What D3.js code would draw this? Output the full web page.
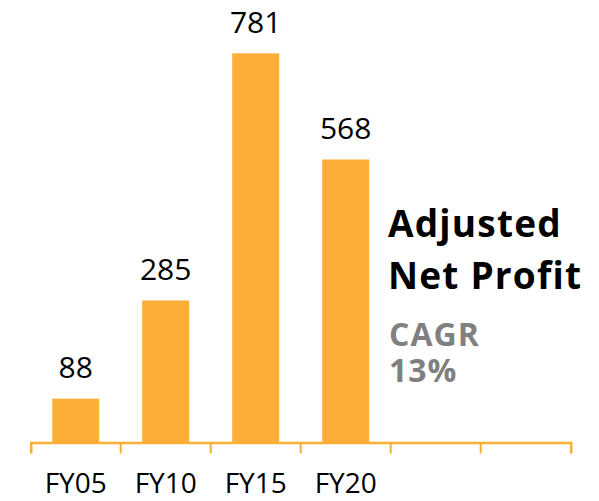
<!DOCTYPE html>
<html>
<head>
<meta charset="utf-8">
<script src="https://cdn.jsdelivr.net/npm/d3@7"></script>
<style>
  html, body { margin: 0; padding: 0; background: #fff; }
  svg { display: block; font-family: "Open Sans", "Noto Sans", sans-serif; }
</style>
</head>
<body>
<script>
const width = 599;
const height = 501;

// data
const categories = ['FY05', 'FY10', 'FY15', 'FY20', '', ''];
const values = [88, 285, 781, 568, null, null];
const titleLines = ['Adjusted', 'Net Profit'];
const cagrLines = ['CAGR', '13%'];

const orange = '#FDAE38';

const svg = d3.select('body')
    .append('svg')
    .attr('width', width)
    .attr('height', height);

const x = d3.scaleBand()
    .domain(d3.range(categories.length))
    .range([30.7, 570.7])
    .paddingInner(0.478)
    .paddingOuter(0.239);

const baseY = 442.5;
const y = d3.scaleLinear()
    .domain([0, 888])
    .range([baseY, 0]);

const barData = values.map((v, i) => ({ v, i })).filter(d => d.v != null);

// bars
svg.append('g')
    .selectAll('rect')
    .data(barData)
    .enter()
    .append('rect')
    .attr('x', d => x(d.i))
    .attr('y', d => y(d.v))
    .attr('width', x.bandwidth())
    .attr('height', d => baseY - y(d.v))
    .attr('fill', orange);

// value labels
svg.append('g')
    .selectAll('text')
    .data(barData)
    .enter()
    .append('text')
    .attr('x', d => x(d.i) + x.bandwidth() / 2)
    .attr('y', d => y(d.v) - 20.7)
    .attr('text-anchor', 'middle')
    .attr('font-size', 30)
    .attr('fill', '#000')
    .text(d => d.v);

// x axis
const axis = svg.append('g')
    .attr('transform', `translate(0,${baseY})`)
    .call(d3.axisBottom(x)
        .tickSize(0)
        .tickSizeOuter(11)
        .tickPadding(50.5)
        .tickFormat(i => categories[i]));

axis.select('.domain')
    .attr('stroke', orange)
    .attr('stroke-width', 2.6);

axis.selectAll('.tick text')
    .attr('font-size', 28)
    .attr('font-family', '"Open Sans", "Noto Sans", sans-serif')
    .attr('fill', '#000')
    .attr('dy', 0);

// inner ticks at band boundaries
axis.append('g')
    .selectAll('line')
    .data(d3.range(1, categories.length))
    .enter()
    .append('line')
    .attr('x1', i => x.range()[0] + i * x.step())
    .attr('x2', i => x.range()[0] + i * x.step())
    .attr('y1', 0)
    .attr('y2', 11)
    .attr('stroke', orange)
    .attr('stroke-width', 2);

// title
svg.append('g')
    .selectAll('text')
    .data(titleLines)
    .enter()
    .append('text')
    .attr('x', 388)
    .attr('y', (d, i) => 236.5 + i * 52.5)
    .attr('font-size', 37)
    .attr('font-weight', 'bold')
    .attr('letter-spacing', 1.2)
    .attr('fill', '#000')
    .text(d => d);

svg.append('g')
    .selectAll('text')
    .data(cagrLines)
    .enter()
    .append('text')
    .attr('x', 389)
    .attr('y', (d, i) => 345.7 + i * 36)
    .attr('font-size', 32)
    .attr('font-weight', 'bold')
    .attr('letter-spacing', 1)
    .attr('fill', '#808080')
    .text(d => d);
</script>
</body>
</html>
